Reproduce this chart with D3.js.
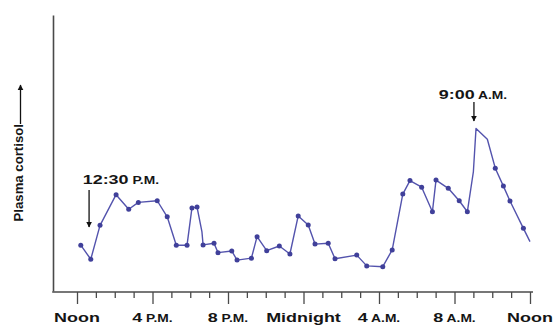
<!DOCTYPE html>
<html><head><meta charset="utf-8">
<script src="https://cdn.jsdelivr.net/npm/d3@7"></script>
<style>
body{margin:0;background:#fff}
svg{display:block}
text{font-family:"Liberation Sans",Arial,Helvetica,sans-serif;font-weight:bold;fill:#151515}
</style>
</head><body><svg id="c" width="559" height="327"></svg>
<script>
// Hours after noon of each sample
const hours = [0.2,0.73,1.22,2.07,2.74,3.25,4.25,4.78,5.26,5.83,6.09,6.36,6.62,6.68,7.26,7.47,8.2,8.48,9.24,9.54,10.05,10.72,11.28,11.72,12.25,12.61,13.31,13.67,14.82,15.35,16.2,16.7,17.26,17.64,18.26,18.83,19.02,19.67,20.25,20.68,21.0,21.14,21.74,22.16,22.59,22.94,23.65,24.0];
// Plasma cortisol (arbitrary units)
const cortisol = [16.6,11.5,23.8,34.9,29.6,32.1,32.7,26.9,16.6,16.6,30.1,30.4,21.4,16.7,17.3,13.9,14.5,11.2,11.9,19.7,14.6,16.3,13.4,27.2,23.9,17.0,17.3,11.7,13.0,9.1,8.8,14.9,35.1,40.0,37.6,28.7,40.2,37.2,32.7,28.7,43.2,58.9,55.0,44.5,38.0,32.6,22.7,17.9];
// whether a sample dot is drawn
const sampled = [1,1,1,1,1,1,1,1,1,1,1,1,0,1,1,1,1,1,1,1,1,1,1,1,1,1,1,1,1,1,1,1,1,1,1,1,1,1,1,1,0,0,0,1,1,1,1,0];
const tickHours = d3.range(0, 25);
const tickMain = ["Noon","4","8","Midnight","4","8","Noon"];
const tickSmall = ["","P.M.","P.M.","","A.M.","A.M.",""];
const annotationHours = [0.64, 21.03];
const annotationMain = ["12:30","9:00"];
const annotationSmall = ["P.M.","A.M."];
const yLabel = "Plasma cortisol";

const svg = d3.select("#c");
const x = d3.scaleLinear().domain([0, 24]).range([77, 530]);
const y = d3.scaleLinear().domain([0, 100]).range([291, 15]);
const axisColor = "#4a4a4a";
const lineColor = "#5353ad";
const dotColor = "#40409a";
const SX = 1.38;

// y axis
const ya = svg.append("g").attr("transform", "translate(53,0)")
  .call(d3.axisLeft(y).tickValues([]).tickSizeOuter(0));
ya.select(".domain").attr("stroke", axisColor).attr("stroke-width", 1.6);

// x axis
const xa = svg.append("g").attr("transform", "translate(0,292)")
  .call(d3.axisBottom(x).tickValues(tickHours).tickFormat("").tickSize(6).tickSizeOuter(0));
xa.select(".domain").remove();
xa.selectAll(".tick line").attr("stroke", axisColor).attr("stroke-width", 1.3)
  .attr("y2", d => d % 4 === 0 ? 12 : 6);
xa.append("line").attr("x1", 52.2).attr("x2", 533).attr("y1", 0).attr("y2", 0)
  .attr("stroke", axisColor).attr("stroke-width", 1.6);

// tick labels
const majors = tickHours.filter(h => h % 4 === 0);
majors.forEach((h, i) => {
  const t = svg.append("text")
    .attr("transform", `translate(${x(h)},321.5) scale(${SX},1)`)
    .attr("text-anchor", "middle");
  t.append("tspan").attr("font-size", 13).text(tickMain[i]);
  if (tickSmall[i]) t.append("tspan").attr("font-size", 10).text(" " + tickSmall[i]);
});

// y label with arrow
const yl = svg.append("g").attr("transform", "translate(22.5,221.5) rotate(-90)");
yl.append("text").attr("font-size", 13.2).attr("text-anchor", "start").text(yLabel);
svg.append("defs").append("marker").attr("id", "ah")
  .attr("viewBox", "0 0 10 10").attr("refX", 9).attr("refY", 5)
  .attr("markerWidth", 6).attr("markerHeight", 7).attr("orient", "auto")
  .attr("markerUnits", "userSpaceOnUse")
  .append("path").attr("d", "M0,0L10,5L0,10Z").attr("fill", "#111");
svg.append("line").attr("x1", 20.5).attr("x2", 20.5).attr("y1", 124).attr("y2", 85)
  .attr("stroke", "#111").attr("stroke-width", 1.3).attr("marker-end", "url(#ah)");

// data line
const pts = hours.map((h, i) => [h, cortisol[i], sampled[i]]);
svg.append("path").datum(pts)
  .attr("fill", "none").attr("stroke", lineColor).attr("stroke-width", 1.4)
  .attr("stroke-linejoin", "round")
  .attr("d", d3.line().x(d => x(d[0])).y(d => y(d[1])));
svg.append("g").selectAll("circle").data(pts.filter(d => d[2]))
  .join("circle").attr("cx", d => x(d[0])).attr("cy", d => y(d[1])).attr("r", 2.5)
  .attr("fill", dotColor);

// annotations
const annoArrow = [[190, 227], [102, 121]];
const annoText = [[82.7, 183.5, "start"], [473, 98.5, "middle"]];
annotationHours.forEach((h, i) => {
  svg.append("line").attr("x1", x(h)).attr("x2", x(h))
    .attr("y1", annoArrow[i][0]).attr("y2", annoArrow[i][1])
    .attr("stroke", "#111").attr("stroke-width", 1.3).attr("marker-end", "url(#ah)");
  const t = svg.append("text")
    .attr("transform", `translate(${annoText[i][0]},${annoText[i][1]}) scale(${SX},1)`)
    .attr("text-anchor", annoText[i][2]);
  t.append("tspan").attr("font-size", 13).text(annotationMain[i]);
  t.append("tspan").attr("font-size", 10).text(" " + annotationSmall[i]);
});
</script>
</body></html>
